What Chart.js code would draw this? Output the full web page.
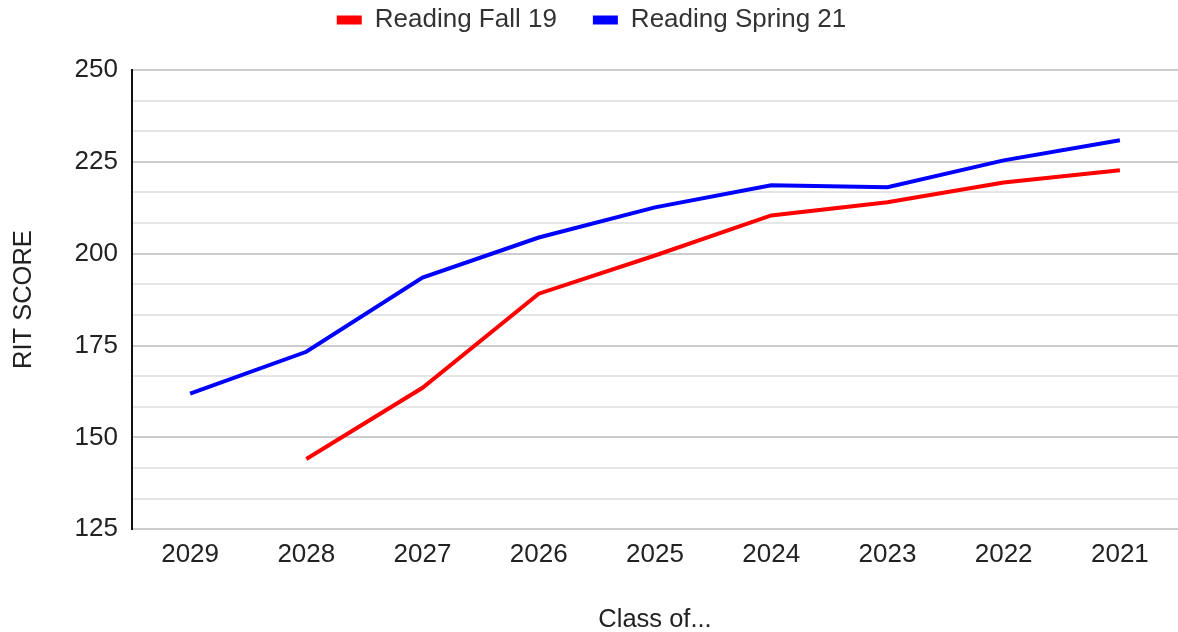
<!DOCTYPE html>
<html>
<head>
<meta charset="utf-8">
<script src="https://cdn.jsdelivr.net/npm/chart.js@4"></script>
<style>
  html, body { margin: 0; padding: 0; background: #fff; }
  #wrap { width: 1178px; height: 632px; }
</style>
</head>
<body>
<div id="wrap"><canvas id="chart"></canvas></div>
<script>
const classYears = ['2029', '2028', '2027', '2026', '2025', '2024', '2023', '2022', '2021'];
const fall19 = [null, 144.1, 163.5, 189.1, 199.5, 210.4, 214.0, 219.4, 222.7];
const spring21 = [161.9, 173.3, 193.5, 204.4, 212.6, 218.6, 218.1, 225.4, 230.9];
const labelTicks = [125, 150, 175, 200, 225, 250];
// minor grid every third of 25
const gridTicks = [];
for (let i = 0; i <= 15; i++) gridTicks.push(125 + i * 25 / 3);

Chart.defaults.font.family = '"Liberation Sans", Arial, sans-serif';
Chart.defaults.color = '#222';

// push the plot down below the legend
const legendGap = {
    id: 'legendGap',
    beforeInit(chart) {
        const origFit = chart.legend.fit;
        chart.legend.fit = function () {
            origFit.bind(chart.legend)();
            this.height += 27;
        };
    }
};

const ctx = document.getElementById('chart').getContext('2d');
new Chart(ctx, {
    type: 'line',
    data: {
        labels: classYears,
        datasets: [{
            label: 'Reading Fall 19',
            data: fall19,
            borderColor: '#ff0000',
            backgroundColor: '#ff0000',
            borderWidth: 4,
            pointRadius: 0,
            tension: 0
        }, {
            label: 'Reading Spring 21',
            data: spring21,
            borderColor: '#0000ff',
            backgroundColor: '#0000ff',
            borderWidth: 4,
            pointRadius: 0,
            tension: 0
        }]
    },
    plugins: [legendGap],
    options: {
        responsive: true,
        maintainAspectRatio: false,
        animation: false,
        layout: { padding: { left: 5, right: 0, top: -29, bottom: -7 } },
        plugins: {
            legend: {
                position: 'top',
                labels: {
                    boxWidth: 25,
                    boxHeight: 9,
                    padding: 36,
                    color: '#333',
                    font: { size: 26 },
                    generateLabels: chart => Chart.defaults.plugins.legend.labels.generateLabels(chart)
                        .map(item => ({ ...item, lineWidth: 0 }))
                }
            },
            tooltip: { enabled: false }
        },
        scales: {
            x: {
                offset: true,
                grid: { display: false, drawTicks: false },
                border: { display: false },
                ticks: { font: { size: 26 }, padding: 10, maxRotation: 0 },
                title: { display: true, text: 'Class of...', font: { size: 25.5 }, padding: { top: 24 } }
            },
            y: {
                min: 125,
                max: 250,
                afterBuildTicks: axis => { axis.ticks = gridTicks.map(v => ({ value: v })); },
                grid: {
                    drawTicks: false,
                    lineWidth: 2,
                    color: c => labelTicks.some(v => Math.abs(v - c.tick.value) < 0.01) ? '#cccccc' : '#e6e6e6'
                },
                border: { display: true, color: '#111', width: 2 },
                ticks: {
                    font: { size: 26 },
                    padding: 14,
                    autoSkip: false,
                    callback: v => labelTicks.some(t => Math.abs(t - v) < 0.01) ? Math.round(v) : ''
                },
                title: { display: true, text: 'RIT SCORE', font: { size: 25.5 }, padding: { bottom: 21 } }
            }
        }
    }
});
</script>
</body>
</html>
